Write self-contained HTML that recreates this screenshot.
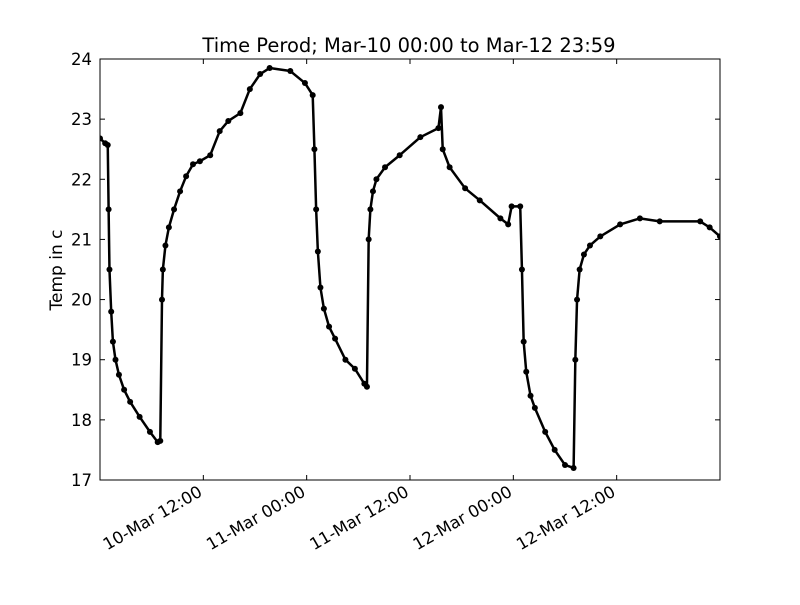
<!DOCTYPE html>
<html><head><meta charset="utf-8"><style>
body{margin:0;background:#fff;}
svg text{font-family:"DejaVu Sans","Liberation Sans",sans-serif;}
</style></head><body>
<svg id="chart" width="800" height="600" viewBox="0 0 800 600" xmlns="http://www.w3.org/2000/svg">
<rect width="800" height="600" fill="#fff"/>
<text x="409" y="52" font-size="19.5" text-anchor="middle">Time Perod; Mar-10 00:00 to Mar-12 23:59</text>
<text x="62" y="270" font-size="17" text-anchor="middle" transform="rotate(-90 62 270)">Temp in c</text>
<g id="plot"></g>
</svg>
<script>
const hours=[0,0.6,0.9,1.0,1.1,1.3,1.5,1.8,2.2,2.8,3.5,4.6,5.8,6.7,7.0,7.2,7.3,7.6,8.0,8.6,9.3,10.0,10.8,11.6,12.8,13.9,14.9,16.3,17.4,18.6,19.7,22.1,23.8,24.7,24.9,25.1,25.3,25.6,26.0,26.6,27.3,28.5,29.6,30.7,31.0,31.2,31.4,31.7,32.1,33.1,34.8,37.2,39.3,39.6,39.8,40.6,42.4,44.1,46.5,47.4,47.8,48.8,49.0,49.2,49.5,50.0,50.5,51.7,52.8,54.0,55.0,55.2,55.4,55.7,56.2,56.9,58.1,60.4,62.7,65.0,69.7,70.8,72];
const temps=[22.68,22.6,22.57,21.5,20.5,19.8,19.3,19.0,18.75,18.5,18.3,18.05,17.8,17.63,17.65,20.0,20.5,20.9,21.2,21.5,21.8,22.05,22.25,22.3,22.4,22.8,22.97,23.1,23.5,23.75,23.85,23.8,23.6,23.4,22.5,21.5,20.8,20.2,19.85,19.55,19.35,19.0,18.85,18.6,18.55,21.0,21.5,21.8,22.0,22.2,22.4,22.7,22.85,23.2,22.5,22.2,21.85,21.65,21.35,21.25,21.55,21.55,20.5,19.3,18.8,18.4,18.2,17.8,17.5,17.25,17.2,19.0,20.0,20.5,20.75,20.9,21.05,21.25,21.35,21.3,21.3,21.2,21.05];
const yTicks=[17,18,19,20,21,22,23,24];
const xTickHours=[12,24,36,48,60];
const xTickLabels=["10-Mar 12:00","11-Mar 00:00","11-Mar 12:00","12-Mar 00:00","12-Mar 12:00"];
const L=100,R=720,T=59,B=480;
const xs=h=>L+(R-L)*h/72;
const ys=v=>B-(B-T)*(v-17)/7;
const NS="http://www.w3.org/2000/svg";
const g=document.getElementById('plot');
function mk(tag,attrs){const e=document.createElementNS(NS,tag);for(const k in attrs)e.setAttribute(k,attrs[k]);g.appendChild(e);return e;}
const clip=document.createElementNS(NS,'clipPath');clip.setAttribute('id','c');
const cr=document.createElementNS(NS,'rect');cr.setAttribute('x',L);cr.setAttribute('y',T);cr.setAttribute('width',R-L);cr.setAttribute('height',B-T);clip.appendChild(cr);g.appendChild(clip);
const line=mk('polyline',{points:hours.map((h,i)=>xs(h)+','+ys(temps[i])).join(' '),fill:'none',stroke:'#000','stroke-width':2.5,'stroke-linejoin':'round','clip-path':'url(#c)'});


hours.forEach((h,i)=>{const c=mk('circle',{cx:xs(h),cy:ys(temps[i]),r:3,fill:'#000','clip-path':'url(#c)'});

});
const frame=mk('rect',{x:L,y:T,width:R-L,height:B-T,fill:'none',stroke:'#000','stroke-width':1});


yTicks.forEach(v=>{const y=ys(v);
mk('line',{x1:L,x2:L+5,y1:y,y2:y,stroke:'#000'});mk('line',{x1:R,x2:R-5,y1:y,y2:y,stroke:'#000'});
const t=mk('text',{x:L-8,y:y+6,'font-size':16.5,'text-anchor':'end'});t.textContent=v;

});
xTickHours.forEach((h,i)=>{const x=xs(h);
mk('line',{x1:x,x2:x,y1:B,y2:B-5,stroke:'#000'});mk('line',{x1:x,x2:x,y1:T,y2:T+5,stroke:'#000'});
const t=mk('text',{x:x,y:B+15,'font-size':16.5,'text-anchor':'end',transform:`rotate(-30 ${x} ${B+15})`});t.textContent=xTickLabels[i];

});
</script>
</body></html>
